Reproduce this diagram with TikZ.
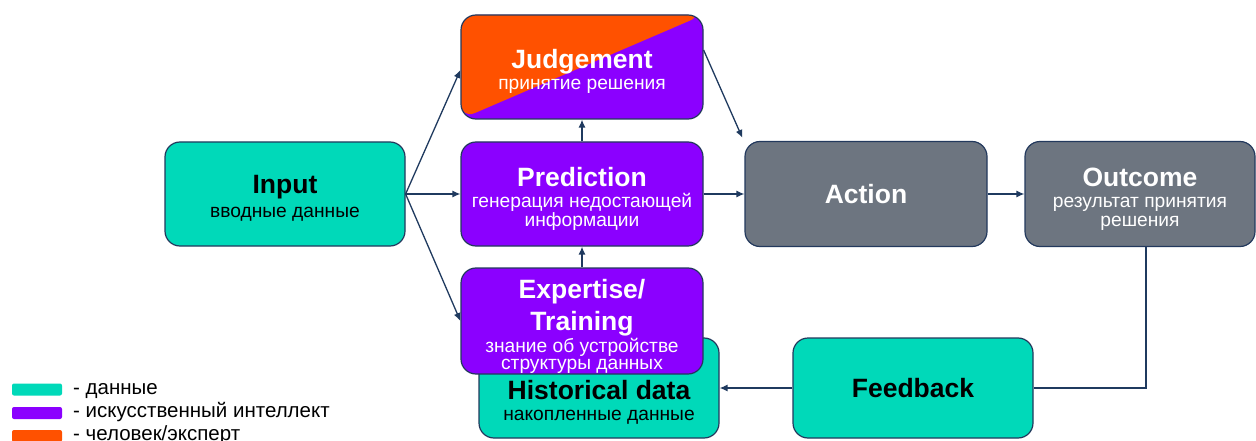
\documentclass[tikz,border=0pt]{standalone}
\usepackage{fontspec}
\setmainfont{Liberation Sans}
\usetikzlibrary{arrows.meta}
\definecolor{cteal}{RGB}{0,217,185}
\definecolor{cpurple}{RGB}{139,0,255}
\definecolor{corange}{RGB}{255,81,0}
\definecolor{cgray}{RGB}{109,117,128}
\definecolor{cborder}{RGB}{35,57,93}
\definecolor{carrow}{RGB}{31,58,95}
\newcommand\ttl[1]{{\fontsize{26.5}{26.5}\selectfont\bfseries #1}}
\newcommand\tstrut[1]{\rule{0pt}{#1}}
\begin{document}
\begin{tikzpicture}[x=1pt,y=-1pt,
  box/.style={draw=cborder, line width=1.2pt, rounded corners=15pt, minimum width=242pt, minimum height=104pt, inner sep=0pt, align=center, font=\fontsize{19.2}{21}\selectfont},
  databox/.style={box, fill=cteal, text=black},
  aibox/.style={box, fill=cpurple, text=white},
  outbox/.style={box, fill=cgray, text=white},
  arr/.style={draw=carrow, line width=1.3pt, -{Latex[length=8pt,width=7pt]}},
  plainline/.style={draw=carrow, line width=1.3pt},
  swatch/.style={fill=#1, rounded corners=2pt, minimum width=50pt, minimum height=12pt, inner sep=0pt},
  legtext/.style={anchor=base west, inner sep=0pt, font=\fontsize{20.5}{20.5}\selectfont, text=black}
]
\path[use as bounding box, fill=white] (0,0) rectangle (1256,441);

% boxes
\node[databox, minimum width=240pt] (input) at (285,194) {\tstrut{27pt}\ttl{Input}\\[3pt]вводные данные};
\node[box, fill=cpurple, text=white,
  path picture={\fill[corange] (path picture bounding box.south west) -- (path picture bounding box.north west) -- (path picture bounding box.north east) -- cycle;}]
  (judge) at (582,67) {\tstrut{28pt}\ttl{Judgement}\\принятие решения};
\node[aibox] (pred) at (582,194) {\tstrut{28pt}\ttl{Prediction}\\генерация недостающей\\[-2pt]информации};
\node[databox, minimum width=240pt, minimum height=100pt] (hist) at (599,388) {};
\node[font=\fontsize{19.2}{21}\selectfont, align=center, text=black, inner sep=0pt] (histtxt) at (599,402) {\ttl{Historical data}\\накопленные данные};
\node[aibox, minimum height=106pt] (exp) at (582,321) {\tstrut{30pt}\ttl{Expertise/}\\[6pt]\ttl{Training}\\[1pt]знание об устройстве\\[-4pt]структуры данных};
\node[outbox, minimum height=105pt] (action) at (866,194) {\ttl{Action}};
\node[outbox, minimum width=230pt, minimum height=105pt] (outcome) at (1140,194) {\tstrut{28pt}\ttl{Outcome}\\результат принятия\\[-2pt]решения};
\node[databox, minimum width=240pt, minimum height=100pt] (feedback) at (913,388) {\ttl{Feedback}};

% connectors
\draw[arr] (input.east) -- (pred.west);
\draw[arr] (input.east) -- ([yshift=-3pt]judge.west);
\draw[arr] (input.east) -- (exp.west);
\draw[arr] (exp.north) -- (pred.south);
\draw[arr] (pred.north) -- (judge.south);
\draw[arr] (pred.east) -- (action.west);
\draw[arr] ([yshift=17pt]judge.east) -- ([xshift=-2pt,yshift=3pt]action.north west);
\draw[arr] (action.east) -- (outcome.west);
\draw[plainline] ([xshift=6pt]outcome.south) |- (feedback.east);
\draw[arr] (feedback.west) -- (hist.east);

% legend
\node[swatch=cteal] (s1) at (37,389.5) {};
\node[legtext] (t1) at (73,394) {- данные};
\node[swatch=cpurple] (s2) at (37,413) {};
\node[legtext] (t2) at (73,417) {- искусственный интеллект};
\node[swatch=corange] (s3) at (37,436) {};
\node[legtext] (t3) at (73,440) {- человек/эксперт};
\end{tikzpicture}
\end{document}
